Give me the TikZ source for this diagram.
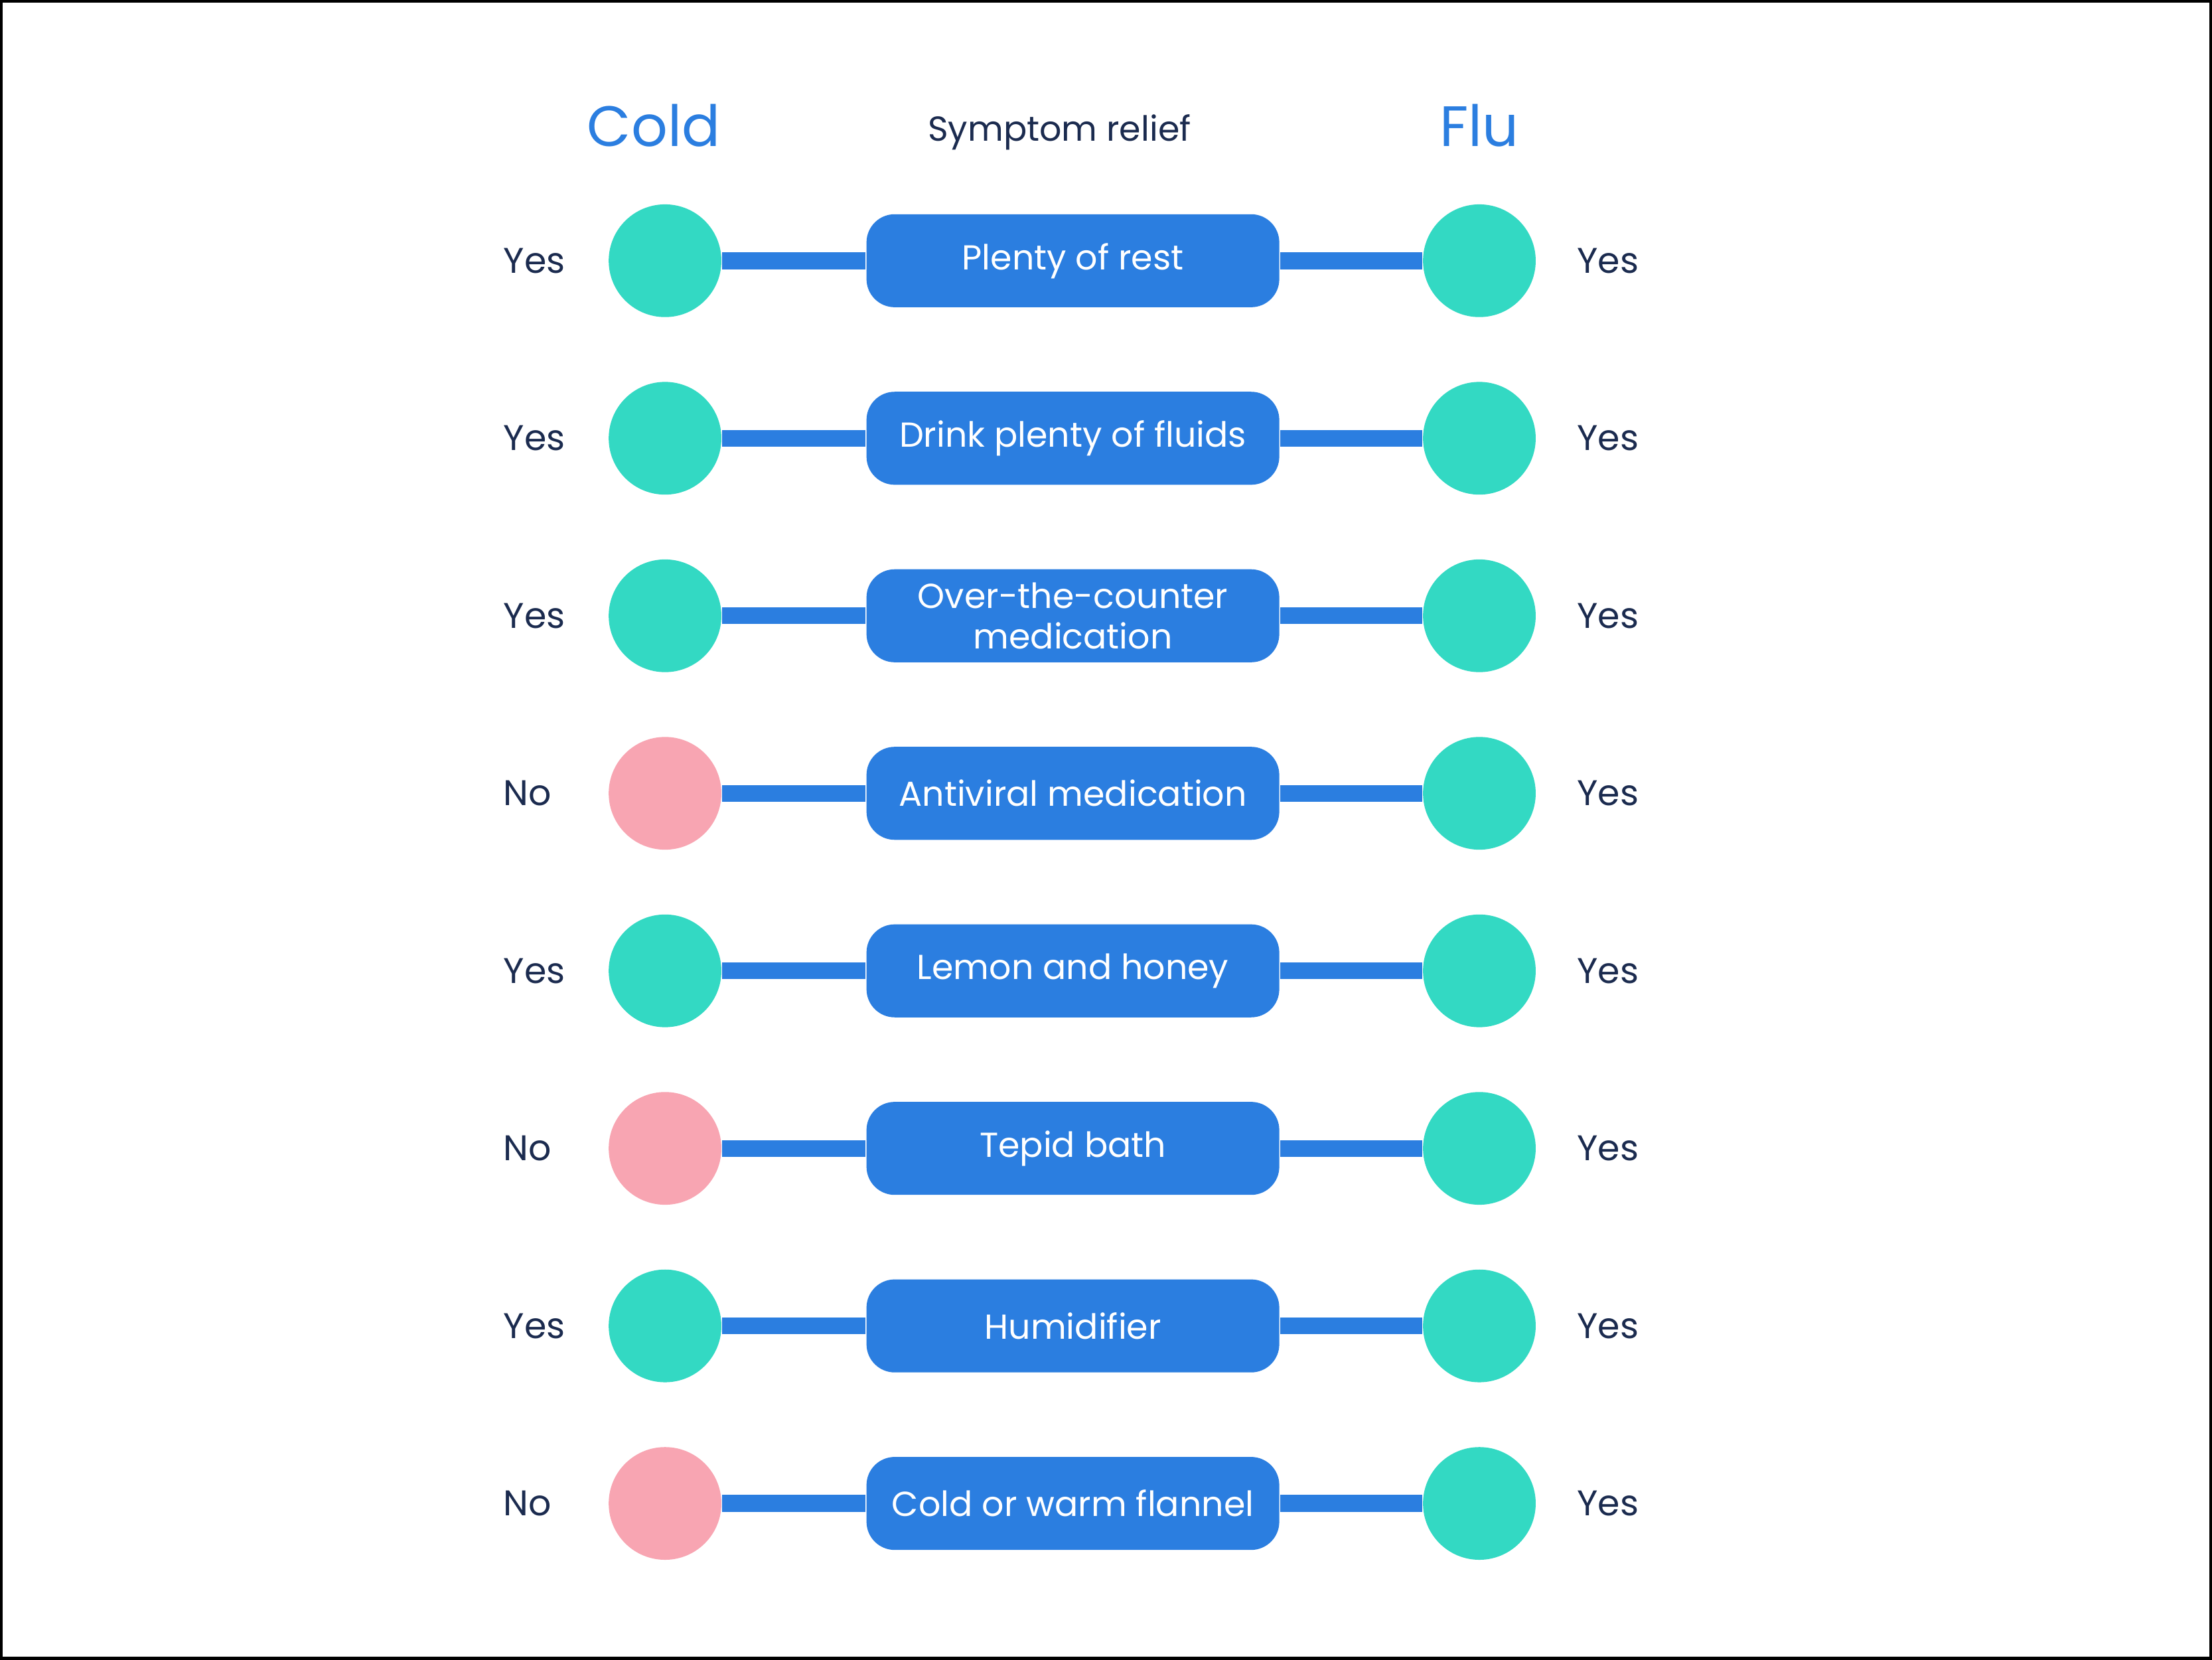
\documentclass[tikz,border=0pt]{standalone}
\usepackage{fontspec}
\setmainfont{Poppins}
\usetikzlibrary{positioning}
\definecolor{teal}{HTML}{33D9C3}
\definecolor{pinkno}{HTML}{F8A5B2}
\definecolor{boxblue}{HTML}{2B7EE0}
\definecolor{navy}{HTML}{1B2B4F}
\tikzset{
  dot/.style={circle,minimum size=0.8cm,inner sep=0pt},
  reliefbox/.style={fill=boxblue,rounded corners=0.2cm,minimum width=2.93cm,minimum height=0.66cm,
    text=white,font=\fontsize{7}{8.2}\selectfont,align=center,inner sep=1pt},
  answer/.style={text=navy,font=\fontsize{7.2}{8.2}\selectfont},
  link/.style={boxblue,line width=3.4pt},
  head/.style={text=boxblue,font=\fontsize{11.5}{13}\selectfont}
}
\begin{document}
\begin{tikzpicture}[x=1cm,y=1cm]
  \draw[line width=0.6pt,fill=white] (0,0) rectangle (15.68,-11.76);
  \node[head] (cold) at (4.63,-0.88) {Cold};
  \node[head] (flu) at (10.49,-0.88) {Flu};
  \node[text=navy,font=\fontsize{7}{8}\selectfont] (title) at (7.51,-0.93) {Symptom relief};
  \foreach \i/\txt/\col/\ans in {1/Plenty of rest/teal/Yes,
      2/Drink plenty of fluids/teal/Yes,
      3/{Over-the-counter\\medication}/teal/Yes,
      4/Antiviral medication/pinkno/No,
      5/Lemon and honey/teal/Yes,
      6/Tepid bath/pinkno/No,
      7/Humidifier/teal/Yes,
      8/Cold or warm flannel/pinkno/No}{
    \pgfmathsetmacro{\yy}{-1.84-1.26*(\i-1)}
    \node[reliefbox] (box\i) at (7.605,\yy) {\txt};
    \node[dot,fill=\col] (c\i) at (4.71,\yy) {};
    \node[dot,fill=teal] (f\i) at (10.49,\yy) {};
    \draw[link] (c\i) -- (box\i);
    \draw[link] (box\i) -- (f\i);
    \node[answer,anchor=west] (ca\i) at (3.44,\yy) {\ans};
    \node[answer,anchor=west] (fa\i) at (11.06,\yy) {Yes};
  }
\end{tikzpicture}
\end{document}
